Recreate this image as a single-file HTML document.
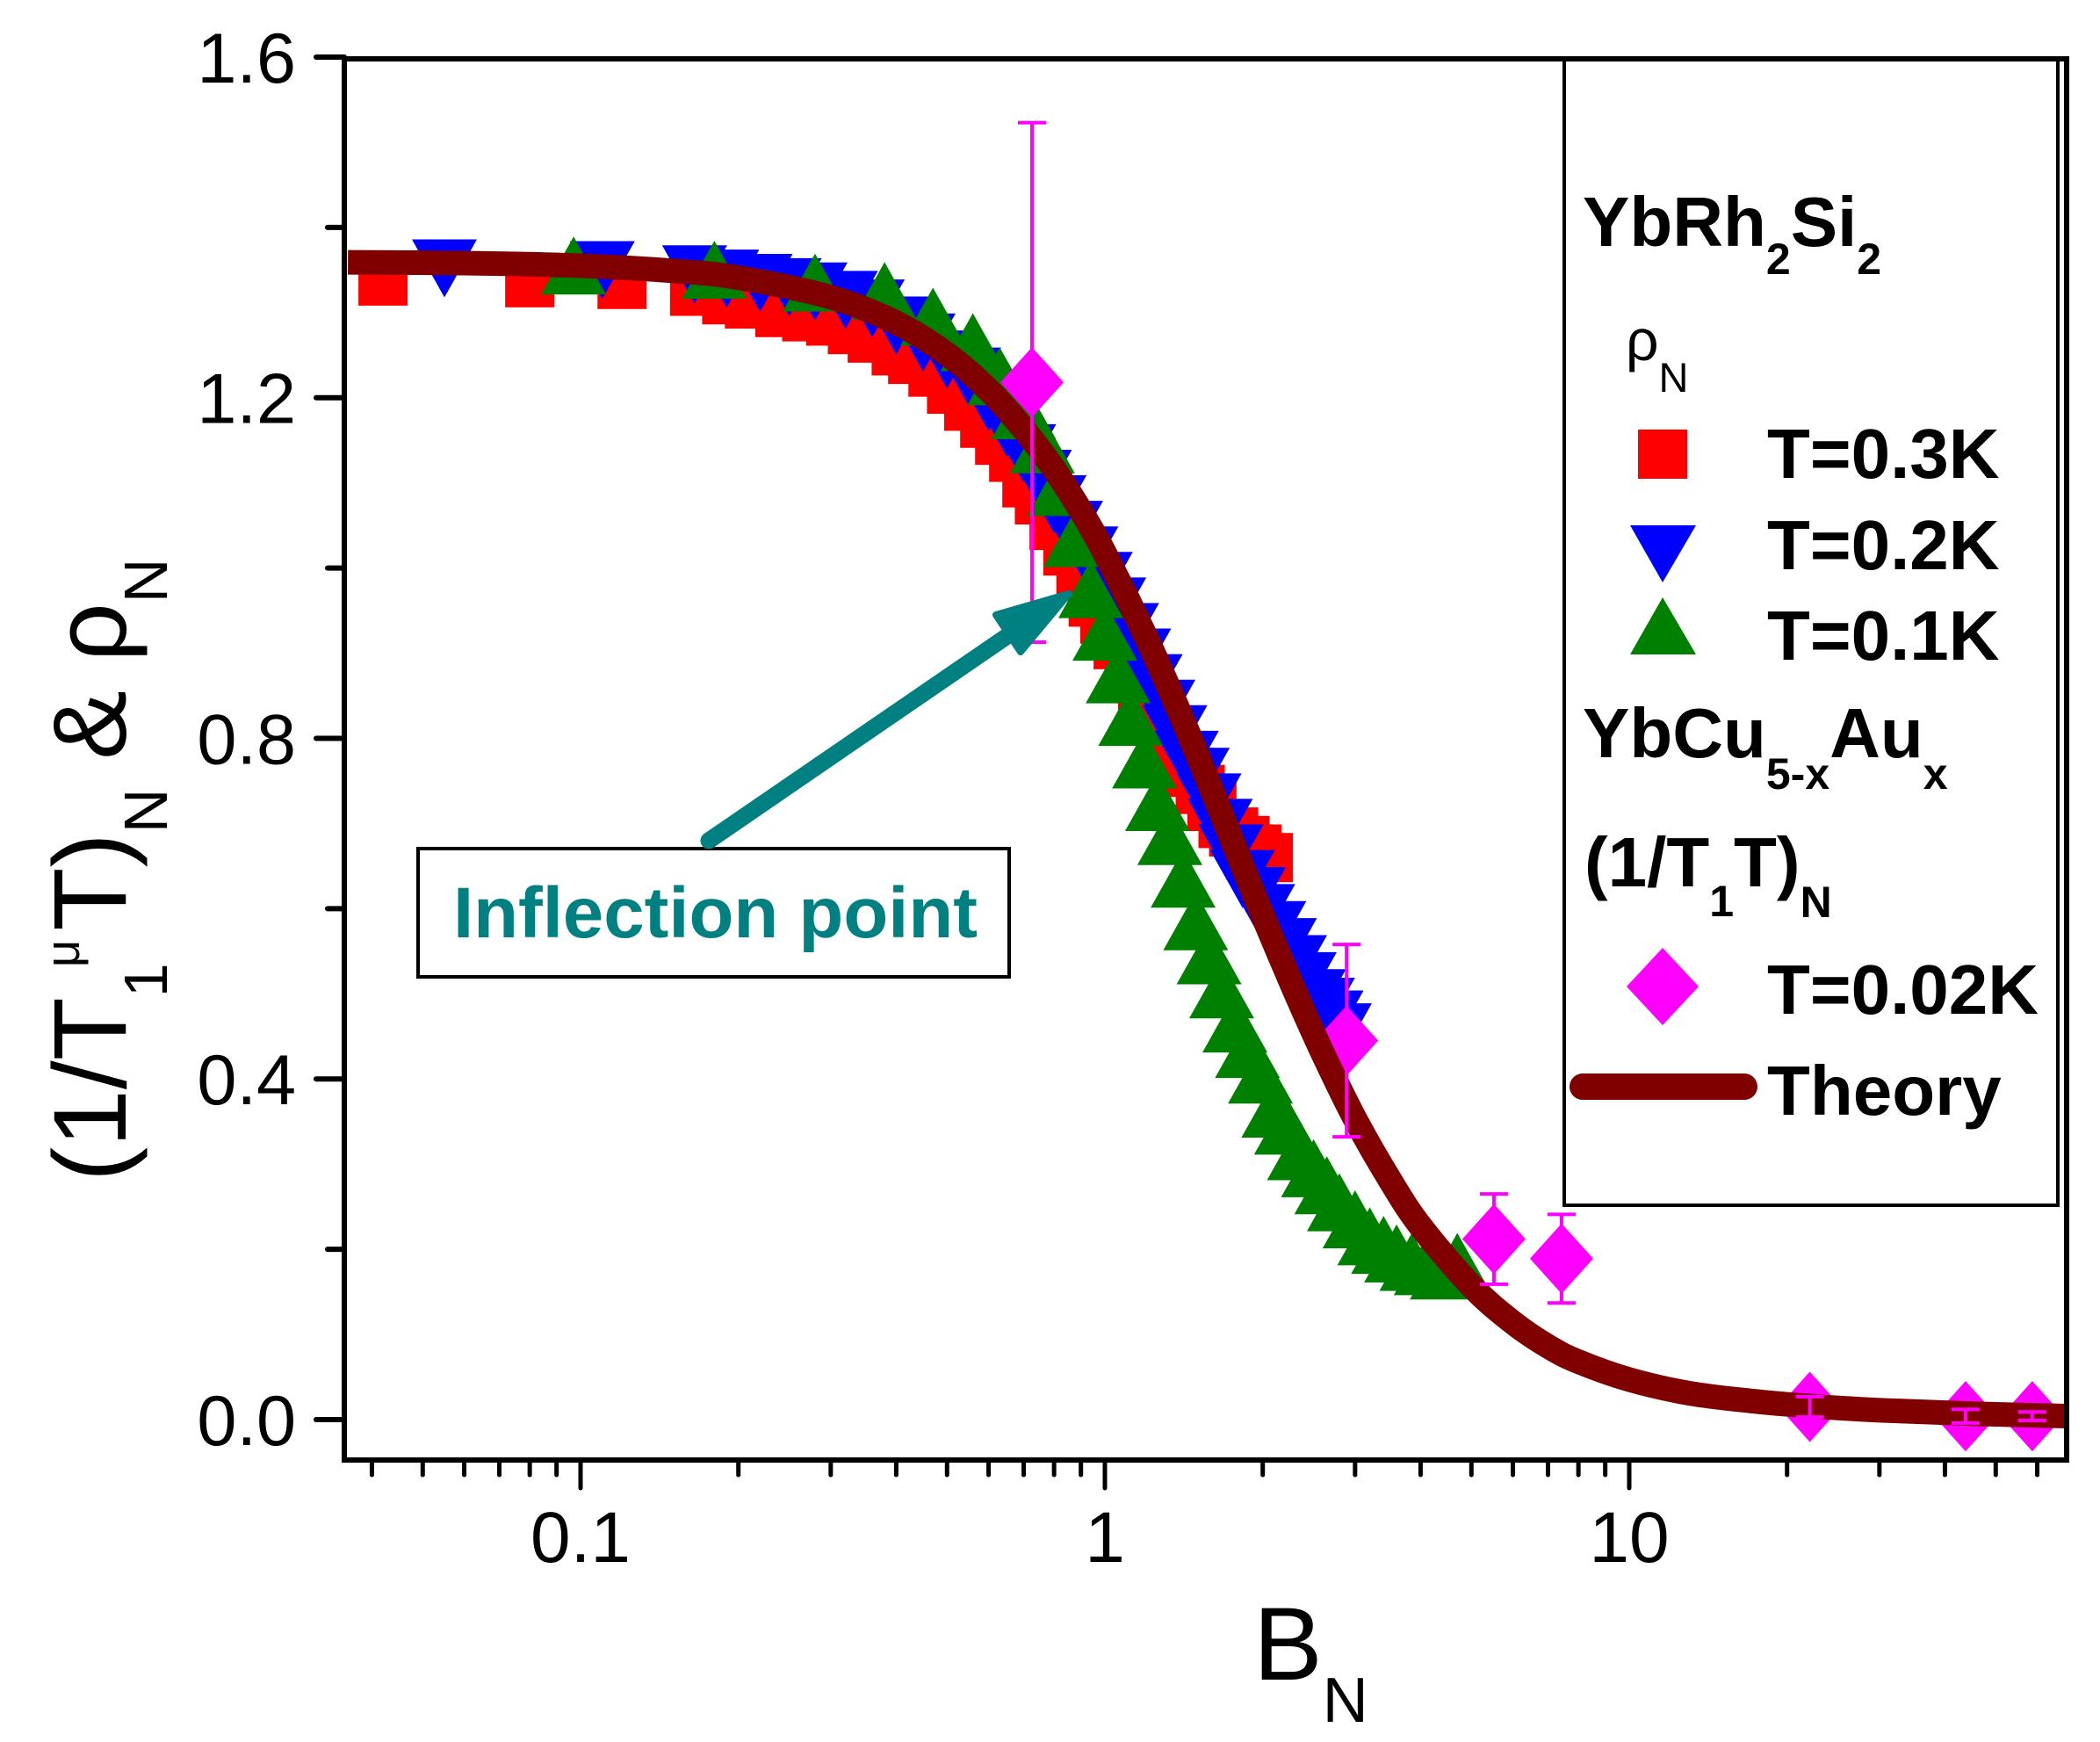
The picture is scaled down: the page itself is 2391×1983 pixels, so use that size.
<!DOCTYPE html>
<html><head><meta charset="utf-8"><style>
html,body{margin:0;padding:0;background:#fff;}
svg{display:block;}
text{font-family:"Liberation Sans",Arial,sans-serif;}
</style></head><body>
<svg id="chart" width="2391" height="1983" viewBox="0 0 2391 1983" xmlns="http://www.w3.org/2000/svg">
<rect x="0" y="0" width="2391" height="1983" fill="#fff"/>
<g id="marks"></g>
<g id="axes"></g>
<g>
<rect x="1781" y="67" width="562" height="1305" fill="none" stroke="#000" stroke-width="4"/>
<text x="1802" y="280" font-size="80" font-weight="bold">YbRh<tspan font-size="50" dy="32">2</tspan><tspan dy="-32">Si</tspan><tspan font-size="50" dy="32">2</tspan></text>
<text x="1851" y="410" font-size="66">ρ<tspan font-size="47" dy="36">N</tspan></text>
<rect x="1865" y="489" width="56" height="56" fill="#ff0000"/>
<text x="2012" y="544" font-size="80" font-weight="bold">T=0.3K</text>
<polygon points="1856,598 1931,598 1893,663" fill="#0000ff"/>
<text x="2012" y="648" font-size="80" font-weight="bold">T=0.2K</text>
<polygon points="1893,680 1931,745 1856,745" fill="#008000"/>
<text x="2012" y="751" font-size="80" font-weight="bold">T=0.1K</text>
<text x="1802" y="862" font-size="80" font-weight="bold">YbCu<tspan font-size="50" dy="36">5-x</tspan><tspan dy="-36">Au</tspan><tspan font-size="50" dy="36">x</tspan></text>
<text x="1804" y="1009" font-size="80" font-weight="bold">(1/T<tspan font-size="50" dy="34">1</tspan><tspan dy="-34">T)</tspan><tspan font-size="50" dy="35">N</tspan></text>
<polygon points="1893,1079 1934,1123 1893,1167 1852,1123" fill="#ff00ff"/>
<text x="2012" y="1154" font-size="80" font-weight="bold">T=0.02K</text>
<line x1="1802" y1="1237" x2="1986" y2="1237" stroke="#800000" stroke-width="30" stroke-linecap="round"/>
<text x="2012" y="1269" font-size="80" font-weight="bold">Theory</text>
</g>
<g>
<rect x="476" y="966" width="673" height="146" fill="#fff" stroke="#000" stroke-width="4"/>
<text x="516" y="1067" font-size="82" font-weight="bold" fill="#008080" textLength="597" lengthAdjust="spacingAndGlyphs">Inflection point</text>
<line x1="807" y1="957" x2="1160" y2="715" stroke="#008080" stroke-width="19" stroke-linecap="round"/>
<polygon points="1217,676 1134,700 1162,742" fill="#008080" stroke="#008080" stroke-width="8" stroke-linejoin="round"/>
</g>
<text x="1427" y="1912" font-size="118">B<tspan font-size="72" dy="48">N</tspan></text>
<text transform="translate(143,1345) rotate(-90)" font-size="118">(1/T<tspan font-size="70" dy="47">1</tspan><tspan font-size="55" dx="-5" dy="-100">μ</tspan><tspan dx="10" dy="53">T)</tspan><tspan font-size="70" dy="47">N</tspan><tspan dy="-47"> &amp; ρ</tspan><tspan font-size="70" dy="47">N</tspan></text>
</svg>
<script>
var theoryX=[0.036,0.06,0.1,0.15,0.2,0.3,0.4,0.5,0.6,0.7,0.8,0.9,1.0,1.2,1.4,1.6,1.8,2.0,2.3,2.6,3.0,3.5,4,5,6,7,8,10,13,17,22,30,45,70];
var theoryY=[1.359,1.358,1.355,1.349,1.341,1.318,1.288,1.251,1.209,1.163,1.116,1.067,1.017,0.918,0.825,0.739,0.661,0.592,0.504,0.431,0.353,0.281,0.227,0.157,0.114,0.086,0.068,0.047,0.031,0.022,0.016,0.011,0.007,0.004];
var redX=[0.042,0.08,0.12,0.165,0.19,0.21,0.24,0.27,0.30,0.33,0.36,0.40,0.43,0.47,0.51,0.55,0.59,0.63,0.67,0.71,0.75,0.80,0.85,0.90,0.95,1.0,1.06,1.12,1.18,1.24,1.31,1.38,1.45,1.52,1.6,1.68,1.76,1.85,1.95,2.05];
var redY=[1.337,1.335,1.333,1.325,1.315,1.31,1.30,1.295,1.29,1.28,1.27,1.255,1.245,1.23,1.21,1.19,1.17,1.15,1.13,1.10,1.08,1.05,1.02,0.99,0.96,0.94,0.91,0.88,0.86,0.83,0.80,0.78,0.76,0.74,0.72,0.70,0.69,0.68,0.67,0.66];
var blueX=[0.055,0.11,0.165,0.19,0.22,0.25,0.28,0.32,0.36,0.40,0.45,0.50,0.55,0.60,0.65,0.70,0.75,0.80,0.86,0.92,0.98,1.04,1.10,1.16,1.22,1.29,1.36,1.43,1.50,1.58,1.66,1.74,1.83,1.92,2.0,2.1,2.2,2.3,2.4,2.5,2.6,2.7,2.8];
var blueY=[1.357,1.355,1.35,1.345,1.34,1.335,1.33,1.32,1.31,1.29,1.27,1.25,1.23,1.20,1.17,1.14,1.11,1.08,1.05,1.02,0.99,0.96,0.93,0.90,0.87,0.84,0.81,0.78,0.76,0.73,0.70,0.67,0.64,0.62,0.60,0.58,0.56,0.54,0.52,0.50,0.49,0.475,0.46];
var greenX=[0.097,0.18,0.28,0.38,0.47,0.56,0.63,0.70,0.76,0.82,0.88,0.94,1.0,1.06,1.12,1.19,1.26,1.33,1.41,1.49,1.58,1.67,1.77,1.87,1.98,2.1,2.22,2.35,2.5,2.65,2.8,3.0,3.2,3.4,3.6,3.85,4.1,4.4,4.7];
var greenY=[1.35,1.345,1.33,1.32,1.29,1.26,1.22,1.18,1.14,1.09,1.03,0.97,0.92,0.87,0.82,0.77,0.72,0.68,0.63,0.58,0.54,0.50,0.46,0.43,0.40,0.36,0.34,0.31,0.29,0.27,0.25,0.23,0.21,0.20,0.19,0.18,0.175,0.17,0.18];
var magX=[0.726,2.89,5.52,7.43,22.1,43.8,58.7];
var magY=[1.218,0.445,0.212,0.189,0.015,0.004,0.004];
var magErr=[0.305,0.113,0.053,0.052,0.012,0.008,0.005];
var yTicks=[0,0.4,0.8,1.2,1.6];
var yTickLabels=["0.0","0.4","0.8","1.2","1.6"];
var xTicks=[0.1,1,10];
var xTickLabels=["0.1","1","10"];

var NS="http://www.w3.org/2000/svg";
var L=392,R=2353,T=67,B=1662;
function X(v){return 1258+597*Math.log10(v);}
function Y(v){return 1616-969.4*v;}
function mk(tag,attrs,parent){var e=document.createElementNS(NS,tag);for(var k in attrs)e.setAttribute(k,attrs[k]);parent.appendChild(e);return e;}
var marks=document.getElementById('marks');
var axes=document.getElementById('axes');
var clip=mk('clipPath',{id:'pc'},marks);
mk('rect',{x:L,y:T,width:R-L,height:B-T},clip);
var g=mk('g',{'clip-path':'url(#pc)'},marks);
var i,e,cx,cy;
for(i=0;i<redX.length;i++){cx=X(redX[i]);cy=Y(redY[i]);
 e=mk('rect',{x:cx-28,y:cy-28,width:56,height:56,fill:'#ff0000'},g);
 
 }
for(i=0;i<blueX.length;i++){cx=X(blueX[i]);cy=Y(blueY[i]);
 e=mk('polygon',{points:(cx-37)+','+(cy-28)+' '+(cx+37)+','+(cy-28)+' '+cx+','+(cy+38),fill:'#0000ff'},g);
 
 }
for(i=0;i<greenX.length;i++){cx=X(greenX[i]);cy=Y(greenY[i]);
 e=mk('polygon',{points:cx+','+(cy-38)+' '+(cx+37)+','+(cy+28)+' '+(cx-37)+','+(cy+28),fill:'#008000'},g);
 
 }
for(i=0;i<magX.length;i++){cx=X(magX[i]);cy=Y(magY[i]);
 e=mk('polygon',{points:cx+','+(cy-40)+' '+(cx+36)+','+cy+' '+cx+','+(cy+40)+' '+(cx-36)+','+cy,fill:'#ff00ff'},g);
 
 }
var P=[];for(i=0;i<theoryX.length;i++)P.push([X(theoryX[i]),Y(theoryY[i])]);
var d='M'+P[0][0]+','+P[0][1];
for(i=0;i<P.length-1;i++){var p0=P[Math.max(i-1,0)],p1=P[i],p2=P[i+1],p3=P[Math.min(i+2,P.length-1)];
 d+=' C'+(p1[0]+(p2[0]-p0[0])/6)+','+(p1[1]+(p2[1]-p0[1])/6)+' '+(p2[0]-(p3[0]-p1[0])/6)+','+(p2[1]-(p3[1]-p1[1])/6)+' '+p2[0]+','+p2[1];}
e=mk('path',{d:d,fill:'none',stroke:'#800000','stroke-width':28,'stroke-linejoin':'round'},g);


for(i=0;i<magX.length;i++){cx=X(magX[i]);var y1=Y(magY[i]+magErr[i]),y2=Y(magY[i]-magErr[i]);
 e=mk('path',{d:'M'+cx+','+y1+'V'+y2+'M'+(cx-16)+','+y1+'H'+(cx+16)+'M'+(cx-16)+','+y2+'H'+(cx+16),stroke:'#ff00ff','stroke-width':4,fill:'none'},g);
 
 }
e=mk('rect',{x:L,y:T,width:R-L,height:B-T,fill:'none',stroke:'#000','stroke-width':6},axes);


for(var k=0;k<=8;k++){var v=k*0.2;var yy=Y(v);var major=(k%2===0);
 e=mk('line',{x1:L,y1:yy,x2:L-(major?32:19),y2:yy,stroke:'#000','stroke-width':6,'stroke-linecap':'round'},axes);
 
 }
for(i=0;i<yTicks.length;i++){
 e=mk('text',{x:337,y:Y(yTicks[i])+29,'font-size':81,'text-anchor':'end'},axes);e.textContent=yTickLabels[i];
 
 }
for(var dec=-2;dec<=1;dec++){for(var m=1;m<=9;m++){var xv=m*Math.pow(10,dec);var xx=X(xv);if(xx<L-1||xx>R+1)continue;
 e=mk('line',{x1:xx,y1:B,x2:xx,y2:B+(m===1?32:17),stroke:'#000','stroke-width':5,'stroke-linecap':'round'},axes);
 
 }}
for(i=0;i<xTicks.length;i++){
 e=mk('text',{x:X(xTicks[i]),y:1778,'font-size':82,'text-anchor':'middle'},axes);e.textContent=xTickLabels[i];
 
 }
</script>
</body></html>
